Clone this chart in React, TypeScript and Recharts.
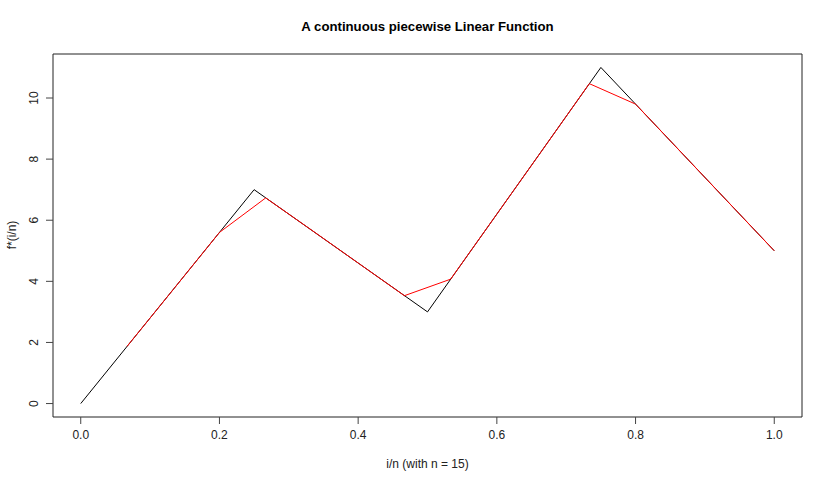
import { LineChart, Line, XAxis, YAxis, ReferenceArea } from "recharts";

// knots of the piecewise linear function f
const knotX = [0, 0.25, 0.5, 0.75, 1];
const knotY = [0, 7, 3, 11, 5];

// f*(i/n), n = 15, i = 1..15
const approxX = [0.0667, 0.1333, 0.2, 0.2667, 0.3333, 0.4, 0.4667, 0.5333, 0.6, 0.6667, 0.7333, 0.8, 0.8667, 0.9333, 1];
const approxY = [1.87, 3.73, 5.6, 6.73, 5.67, 4.6, 3.53, 4.07, 6.2, 8.33, 10.47, 9.8, 8.2, 6.6, 5];

const xTicks = [0, 0.2, 0.4, 0.6, 0.8, 1];
const yTicks = [0, 2, 4, 6, 8, 10];

const font = "'Liberation Sans', Arial, sans-serif";

const fData = knotX.map((x, i) => ({ x, y: knotY[i] }));
const approxData = approxX.map((x, i) => ({ x, y: approxY[i] }));

function YTick({ y, payload }: any) {
  return (
    <g transform={`translate(38,${y})`}>
      <text transform="rotate(-90)" textAnchor="middle" fontSize={12} fill="#222" fontFamily={font}>
        {payload.value}
      </text>
    </g>
  );
}

export default function App() {
  return (
    <div style={{ position: "fixed", left: 0, top: 0, width: 830, height: 484, background: "#fff", fontFamily: font }}>
      <div style={{ position: "absolute", left: 53, width: 749, top: 19, textAlign: "center", fontSize: 13.2, fontWeight: "bold", color: "#000" }}>
        A continuous piecewise Linear Function
      </div>
      <div style={{ position: "absolute", left: 53, width: 749, top: 457, textAlign: "center", fontSize: 12, color: "#222" }}>
        i/n (with n = 15)
      </div>
      <div style={{ position: "absolute", left: 12, top: 235, fontSize: 12, color: "#222", transform: "translate(-50%,-50%) rotate(-90deg)", whiteSpace: "nowrap" }}>
        f*(i/n)
      </div>
      <LineChart width={830} height={484} margin={{ top: 54, right: 28, left: 0, bottom: 0 }}>
        <XAxis
          type="number"
          dataKey="x"
          domain={[-0.04, 1.04]}
          ticks={xTicks}
          tickFormatter={(v: number) => v.toFixed(1)}
          height={67}
          axisLine={false}
          tickSize={7}
          tickMargin={6}
          tickLine={{ stroke: "#444" }}
          tick={{ fontSize: 12, fill: "#222", fontFamily: font }}
          allowDataOverflow
        />
        <YAxis
          type="number"
          dataKey="y"
          domain={[-0.44, 11.44]}
          ticks={yTicks}
          width={53}
          axisLine={false}
          tickSize={7}
          tickLine={{ stroke: "#444" }}
          tick={<YTick />}
          allowDataOverflow
        />
        <ReferenceArea x1={-0.04} x2={1.04} y1={-0.44} y2={11.44} fill="none" stroke="#222" ifOverflow="visible" />
        <Line data={fData} dataKey="y" type="linear" stroke="#000" strokeWidth={1} dot={false} isAnimationActive={false} />
        <Line data={approxData} dataKey="y" type="linear" stroke="#ff0000" strokeWidth={1} dot={false} isAnimationActive={false} />
      </LineChart>
    </div>
  );
}
